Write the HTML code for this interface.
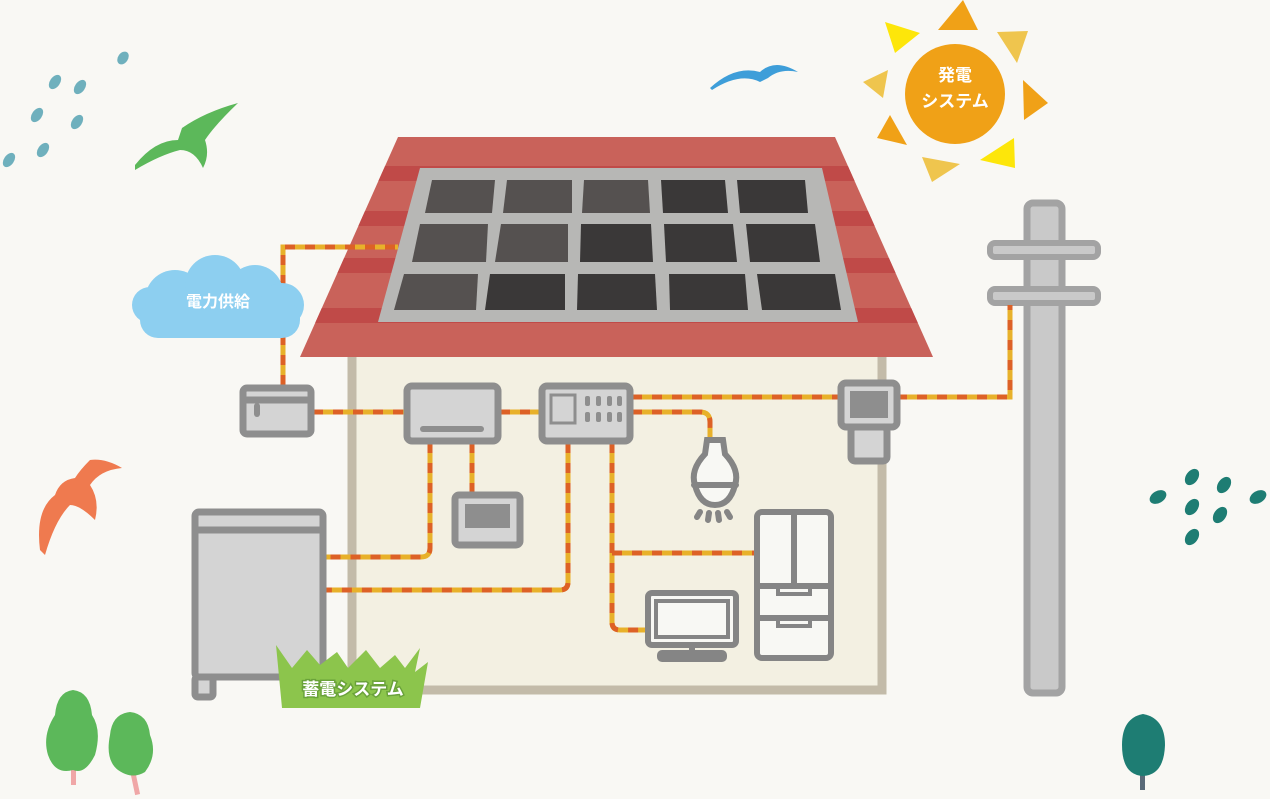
<!DOCTYPE html>
<html><head><meta charset="utf-8"><style>
html,body{margin:0;padding:0;background:#f9f8f4;}
svg{display:block}
text{font-family:"Liberation Sans","Noto Sans CJK JP",sans-serif;font-weight:bold;fill:#fff}
</style></head><body>
<svg width="1270" height="799" viewBox="0 0 1270 799" xmlns="http://www.w3.org/2000/svg">
<defs><clipPath id="roof"><polygon points="398,137 835,137 933,357 300,357"/></clipPath></defs>
<rect width="1270" height="799" fill="#f9f8f4"/>
<!-- house wall -->
<rect x="352" y="350" width="530" height="340" fill="#f3f0e2" stroke="#c3bba9" stroke-width="9"/>
<!-- roof -->
<polygon points="398,137 835,137 933,357 300,357" fill="#c9625a"/>
<g clip-path="url(#roof)" fill="#c04a48">
<rect x="290" y="166" width="660" height="15"/>
<rect x="290" y="211" width="660" height="15"/>
<rect x="290" y="258" width="660" height="15"/>
<rect x="290" y="308" width="660" height="15"/>
</g>
<polygon points="420,168 822,168 858,322 378,322" fill="#b7b7b5"/>
<g fill="#3a3838">
<polygon points="432,180 495,180 492,213 425,213" fill="#555150"/>
<polygon points="507,180 572,180 572,213 503,213" fill="#555150"/>
<polygon points="584,180 648,180 650,213 582,213" fill="#555150"/>
<polygon points="661,180 725,180 728,213 663,213"/>
<polygon points="737,180 805,180 808,213 740,213"/>
<polygon points="420,224 488,224 486,262 412,262" fill="#555150"/>
<polygon points="501,224 568,224 568,262 495,262" fill="#555150"/>
<polygon points="581,224 651,224 653,262 580,262"/>
<polygon points="664,224 733,224 737,262 666,262"/>
<polygon points="746,224 815,224 820,262 750,262"/>
<polygon points="404,274 478,274 476,310 394,310" fill="#555150"/>
<polygon points="490,274 565,274 565,310 485,310"/>
<polygon points="578,274 655,274 657,310 577,310"/>
<polygon points="669,274 745,274 748,310 670,310"/>
<polygon points="757,274 835,274 841,310 762,310"/>
</g>
<!-- pole -->
<rect x="1027" y="203" width="35" height="490" rx="6" fill="#c9c9c9" stroke="#a3a3a3" stroke-width="7"/>
<rect x="990" y="243" width="108" height="14" rx="5" fill="#c9c9c9" stroke="#a3a3a3" stroke-width="6"/>
<rect x="990" y="289" width="108" height="14" rx="5" fill="#c9c9c9" stroke="#a3a3a3" stroke-width="6"/>
<!-- wires -->
<g fill="none" stroke-width="5">
<g stroke="#e8b12a">
<path d="M283,385 V247 H398 M313,412 H405 M500,412 H540 M632,397 H838 M897,397 H1010 V305 M632,412 H700 Q710,412 710,422 V440 M430,443 V548 Q430,557 421,557 H325 M472,443 V492 M568,443 V582 Q568,590 560,590 H325 M612,443 V622 Q612,630 620,630 H648 M612,553 H755"/>
</g>
<g stroke="#dd6126" stroke-dasharray="10 10">
<path d="M283,385 V247 H398 M313,412 H405 M500,412 H540 M632,397 H838 M897,397 H1010 V305 M632,412 H700 Q710,412 710,422 V440 M430,443 V548 Q430,557 421,557 H325 M472,443 V492 M568,443 V582 Q568,590 560,590 H325 M612,443 V622 Q612,630 620,630 H648 M612,553 H755"/>
</g>
</g>
<!-- devices -->
<g stroke="#8e8e8e" stroke-width="7" fill="#d4d4d4">
<rect x="243" y="388" width="68" height="46" rx="4"/>
<line x1="245" y1="400" x2="309" y2="400"/>
<rect x="407" y="386" width="91" height="55" rx="5"/>
<rect x="542" y="386" width="88" height="55" rx="5"/>
<rect x="455" y="495" width="65" height="50" rx="4"/>
<rect x="841" y="383" width="56" height="44" rx="5"/>
<rect x="851" y="427" width="36" height="34" rx="4"/>
<rect x="195" y="512" width="128" height="165" rx="4"/>
<line x1="197" y1="530" x2="321" y2="530"/>
<rect x="195" y="677" width="18" height="20" rx="3"/>
</g>
<g fill="#8e8e8e">
<rect x="254" y="403" width="6" height="14" rx="3"/>
<rect x="420" y="426" width="64" height="6" rx="3"/>
<rect x="465" y="504" width="45" height="24"/>
<rect x="850" y="391" width="38" height="27"/>
<rect x="551" y="395" width="24" height="28" fill="none" stroke="#8e8e8e" stroke-width="3"/>
<rect x="585" y="396" width="5" height="10" rx="2"/><rect x="596" y="396" width="5" height="10" rx="2"/><rect x="607" y="396" width="5" height="10" rx="2"/><rect x="617" y="396" width="5" height="10" rx="2"/>
<rect x="585" y="412" width="5" height="10" rx="2"/><rect x="596" y="412" width="5" height="10" rx="2"/><rect x="607" y="412" width="5" height="10" rx="2"/><rect x="617" y="412" width="5" height="10" rx="2"/>
</g>
<!-- bulb -->
<g stroke="#858585" stroke-width="6" fill="#f8f8f4" stroke-linecap="round">
<path d="M707,440 h16 l2,14 Q740,470 735,485 Q730,505 715,505 Q700,505 695,485 Q690,470 705,454 Z"/>
<line x1="694" y1="485" x2="736" y2="485"/>
<line x1="700" y1="512" x2="697" y2="517"/><line x1="709" y1="513" x2="708" y2="520"/><line x1="718" y1="513" x2="719" y2="520"/><line x1="727" y1="512" x2="730" y2="517"/>
</g>
<!-- fridge / tv -->
<g stroke="#858585" stroke-width="6" fill="#f8f8f4">
<rect x="757" y="512" width="74" height="146" rx="5"/>
<line x1="794" y1="512" x2="794" y2="586"/>
<line x1="757" y1="586" x2="831" y2="586"/>
<line x1="757" y1="618" x2="831" y2="618"/>
<rect x="778" y="586" width="32" height="8" fill="none" stroke-width="4"/>
<rect x="778" y="618" width="32" height="8" fill="none" stroke-width="4"/>
<rect x="648" y="593" width="88" height="52" rx="4"/>
<rect x="656" y="601" width="72" height="36" fill="none" stroke-width="4"/>
<line x1="692" y1="645" x2="692" y2="653"/>
<rect x="660" y="653" width="64" height="6" rx="2"/>
</g>
<!-- grass label -->
<polygon points="276,645 292,668 307,650 320,665 337,652 348,668 366,650 380,668 395,655 405,668 420,648 415,672 428,662 420,708 282,708" fill="#8cc54c"/>
<text x="353" y="695" font-size="17" text-anchor="middle" stroke="#6aa23a" stroke-width="3" paint-order="stroke">蓄電システム</text>
<!-- cloud -->
<g fill="#8dcff0">
<circle cx="175" cy="300" r="30"/><circle cx="215" cy="285" r="30"/><circle cx="255" cy="293" r="28"/><circle cx="282" cy="305" r="22"/><circle cx="150" cy="305" r="18"/>
<rect x="140" y="300" width="160" height="38" rx="18"/>
</g>
<text x="218" y="307" font-size="16" text-anchor="middle">電力供給</text>
<!-- sun -->
<g fill="#f0a117">
<circle cx="955" cy="94" r="50"/>
<polygon points="963,0 938,30 978,30"/>
<polygon points="1023,80 1024,120 1048,103"/>
<polygon points="877,138 890,115 907,145"/>
</g>
<polygon points="885,22 920,33 895,53" fill="#fde60a"/>
<polygon points="1014,138 1015,168 980,160" fill="#fde60a"/>
<polygon points="997,32 1028,31 1017,63" fill="#efc54e"/>
<polygon points="888,70 863,82 883,98" fill="#efc54e"/>
<polygon points="922,157 960,164 932,182" fill="#efc54e"/>
<text x="955" y="81" font-size="17" text-anchor="middle">発電</text>
<text x="955" y="107" font-size="17" text-anchor="middle">システム</text>
<!-- birds -->
<path d="M135,165 Q155,140 178,140 L182,128 Q205,112 238,103 Q215,125 205,140 Q210,155 203,168 Q195,150 180,150 Q160,155 135,170 Z" fill="#5cb85a"/>
<path d="M710,88 Q735,65 760,72 Q775,58 798,72 Q780,68 768,78 L760,82 Q740,72 712,90 Z" fill="#3e9ed9"/>
<path d="M40,550 Q35,510 55,495 Q60,480 75,478 Q80,470 90,460 Q105,458 122,468 Q100,470 90,485 Q100,500 95,520 Q80,505 70,505 Q55,520 45,555 Z" fill="#ef7a4f"/>
<!-- dots -->
<g fill="#6fb0bd">
<ellipse cx="123" cy="58" rx="5" ry="7" transform="rotate(35 123 58)"/>
<ellipse cx="80" cy="87" rx="5" ry="8" transform="rotate(35 80 87)"/>
<ellipse cx="55" cy="82" rx="5" ry="8" transform="rotate(35 55 82)"/>
<ellipse cx="37" cy="115" rx="5" ry="8" transform="rotate(35 37 115)"/>
<ellipse cx="77" cy="122" rx="5" ry="8" transform="rotate(35 77 122)"/>
<ellipse cx="43" cy="150" rx="5" ry="8" transform="rotate(35 43 150)"/>
<ellipse cx="9" cy="160" rx="5" ry="8" transform="rotate(35 9 160)"/>
</g>
<g fill="#1e7d73">
<ellipse cx="1192" cy="477" rx="6" ry="9" transform="rotate(35 1192 477)"/>
<ellipse cx="1224" cy="485" rx="6" ry="9" transform="rotate(35 1224 485)"/>
<ellipse cx="1158" cy="497" rx="6" ry="9" transform="rotate(60 1158 497)"/>
<ellipse cx="1192" cy="507" rx="6" ry="9" transform="rotate(35 1192 507)"/>
<ellipse cx="1258" cy="497" rx="6" ry="9" transform="rotate(60 1258 497)"/>
<ellipse cx="1220" cy="515" rx="6" ry="9" transform="rotate(35 1220 515)"/>
<ellipse cx="1192" cy="537" rx="6" ry="9" transform="rotate(35 1192 537)"/>
</g>
<!-- trees -->
<rect x="71" y="760" width="5" height="25" fill="#f0a7a7"/>
<rect x="132" y="765" width="5" height="30" fill="#f0a7a7" transform="rotate(-12 134 780)"/>
<path d="M73,690 Q90,692 92,715 Q102,730 95,755 Q85,775 73,770 Q55,775 48,755 Q42,735 55,715 Q57,692 73,690 Z" fill="#5cb85a"/>
<path d="M130,712 Q148,714 150,735 Q158,755 145,772 Q132,780 118,770 Q105,760 110,735 Q112,714 130,712 Z" fill="#5cb85a"/>
<rect x="1140" y="760" width="5" height="30" fill="#5a6a78"/>
<path d="M1143,714 Q1165,718 1165,745 Q1164,775 1143,776 Q1122,775 1122,745 Q1122,718 1143,714 Z" fill="#1e7d73"/>
</svg>
</body></html>
